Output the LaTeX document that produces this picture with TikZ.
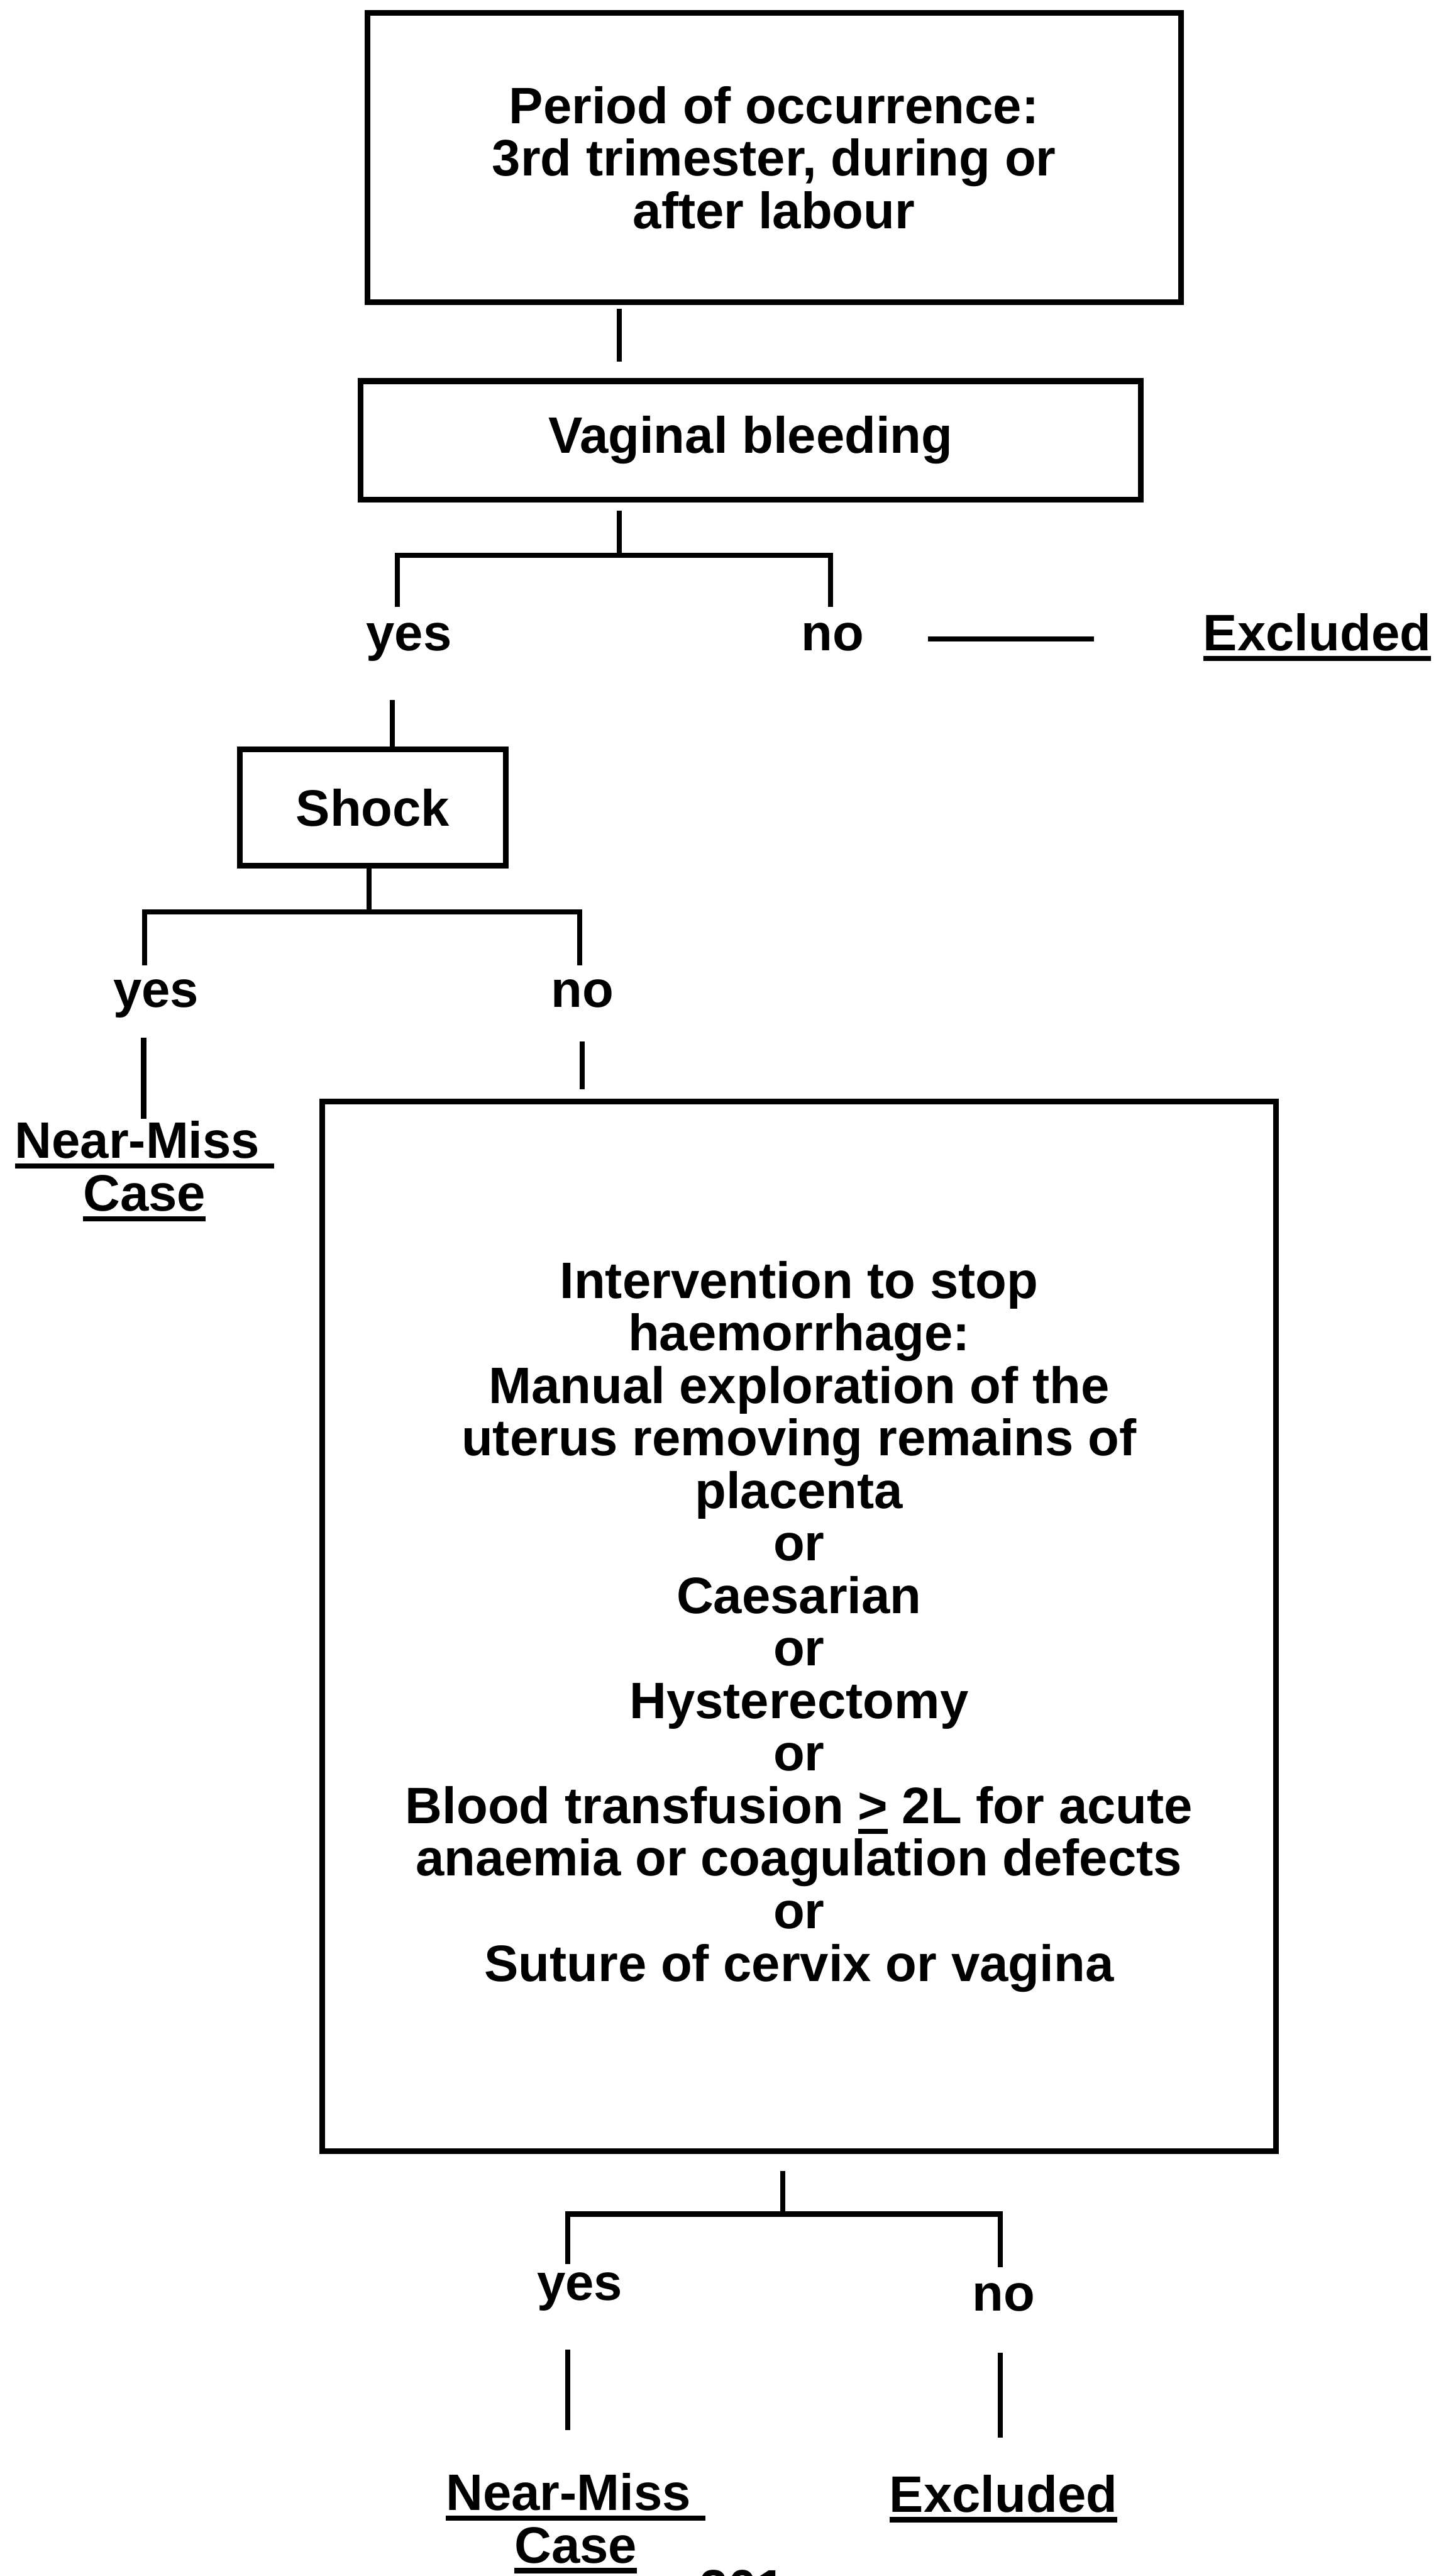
\documentclass[tikz,border=0pt]{standalone}
\usepackage{fontspec}
\setmainfont{Liberation Sans}
\usetikzlibrary{positioning}
\newcommand{\ulbold}[1]{\leavevmode\setbox0\hbox{#1}\rlap{\rule[-3.6pt]{\wd0}{1.8pt}}\box0\relax}
\tikzset{
		flowbox/.style={draw,line width=2pt,inner sep=0pt,align=center},
		answer/.style={inner sep=0pt,anchor=base,align=center},
		conn/.style={line width=1.8pt},
		}

\begin{document}
\begin{tikzpicture}[x=0.02cm,y=-0.02cm,font=\fontsize{17.76}{18.2}\selectfont\bfseries]
					\useasboundingbox (0,0) rectangle (874,1568);
					%BOXES
					\node[flowbox,minimum width=9.91cm,minimum height=3.524cm](period) at (471.3,95.9){Period of occurrence:\\3rd trimester, during or\\after labour};
					\node[flowbox,minimum width=9.5cm,minimum height=1.44cm](vaginal) at (457,268){Vaginal bleeding};
					\node[flowbox,minimum width=3.234cm,minimum height=1.42cm](shock) at (227,491.5){Shock};
					\node[flowbox,minimum width=11.62cm,minimum height=12.78cm](stop) at (486.5,990){Intervention to stop\\haemorrhage:\\Manual exploration of the\\uterus removing remains of\\placenta\\or\\Caesarian\\or\\Hysterectomy\\or\\Blood transfusion \ulbold{>} 2L for acute\\anaemia or coagulation defects\\or\\Suture of cervix or vagina};
					%ANSWERS
					\node[answer](yesA) at (249,396){yes};
					\node[answer](noA) at (507,396){no};
					\node[answer](exclA) at (802,396){\ulbold{Excluded}};
					\node[answer](yesB) at (95,613){yes};
					\node[answer](noB) at (354.5,613){no};
					\node[answer](nearB) at (88,737){\ulbold{Near-Miss\ }\\\ulbold{Case}};
					\node[answer](yesC) at (353,1400){yes};
					\node[answer](noC) at (611,1406.8){no};
					\node[answer](nearC) at (350.5,1560){\ulbold{Near-Miss\ }\\\ulbold{Case}};
					\node[answer](exclC) at (611,1529){\ulbold{Excluded}};
					\node[answer](fignum) at (452,1586){201};
					%COORDINATES
					\coordinate (pA) at (377,188);
					\coordinate (pB) at (377,220);
					\coordinate (sA) at (377,311);
					\coordinate (jA) at (377,338);
					\coordinate (dA1) at (242,369.6);
					\coordinate (dA2) at (505.6,369.6);
					\coordinate (xA1) at (565,389);
					\coordinate (xA2) at (666,389);
					\coordinate (sB) at (239,426);
					\coordinate (jB) at (224.6,555);
					\coordinate (dB1) at (88,587.5);
					\coordinate (dB2) at (353,587.5);
					\coordinate (nB1) at (87.5,631.5);
					\coordinate (nB2) at (87.5,681);
					\coordinate (nB3) at (354.5,634);
					\coordinate (nB4) at (354.5,663);
					\coordinate (sC) at (476.6,1321.5);
					\coordinate (jC) at (476.6,1347.7);
					\coordinate (dC1) at (345.6,1378);
					\coordinate (dC2) at (609,1380);
					\coordinate (nC1) at (345.6,1430);
					\coordinate (nC2) at (345.6,1479);
					\coordinate (nC3) at (609,1432);
					\coordinate (nC4) at (609,1483.6);
					%PATHS
					\draw[conn] (pA) -- (pB);
					\draw[conn] (sA) -- (jA);
					\draw[conn] (dA1) |- (jA) -| (dA2);
					\draw[conn] (xA1) -- (xA2);
					\draw[conn] (sB) -- (sB |- shock.north);
					\draw[conn] (shock.south -| jB) -- (jB);
					\draw[conn] (dB1) |- (jB) -| (dB2);
					\draw[conn] (nB1) -- (nB2);
					\draw[conn] (nB3) -- (nB4);
					\draw[conn] (sC) -- (jC);
					\draw[conn] (dC1) |- (jC) -| (dC2);
					\draw[conn] (nC1) -- (nC2);
					\draw[conn] (nC3) -- (nC4);
				\end{tikzpicture}
\end{document}
